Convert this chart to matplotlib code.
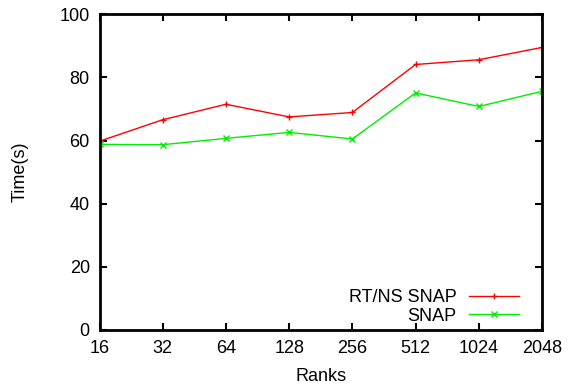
import matplotlib
matplotlib.use("Agg")
import matplotlib.pyplot as plt

plt.rcParams['font.family'] = ['Liberation Sans', 'DejaVu Sans']

ranks = [16, 32, 64, 128, 256, 512, 1024, 2048]
rtns_snap = [59.8, 66.6, 71.5, 67.5, 68.9, 84.1, 85.6, 89.5]
snap = [58.8, 58.7, 60.7, 62.6, 60.5, 75.1, 70.8, 75.6]

fs = 13
fig = plt.figure(figsize=(5.7, 3.85), dpi=100)
ax = fig.add_axes([99.5/570, 1-330/385, (542-99.5)/570, (330-14.3)/385])

ax.plot(ranks, rtns_snap, color="#ff0000", marker="+", markersize=5, lw=1, label="RT/NS SNAP")
ax.plot(ranks, snap, color="#00ee00", marker="x", markersize=4, lw=1, label="SNAP")

ax.set_xscale("log", base=2)
ax.set_xlim(16, 2048)
ax.set_ylim(0, 100)
ax.set_xticks(ranks)
ax.set_xticklabels([str(r) for r in ranks])
ax.minorticks_off()
ax.set_yticks([0, 20, 40, 60, 80, 100])
ax.tick_params(direction="in", top=True, right=True, length=5, width=1.5, labelsize=fs, pad=7)
for s in ax.spines.values():
    s.set_linewidth(2)
ax.set_xlabel("Ranks", fontsize=fs, labelpad=8)
ax.set_ylabel("Time(s)", fontsize=fs, labelpad=22)

leg = ax.legend(loc="lower right", frameon=False, markerfirst=False, fontsize=fs,
                handlelength=2.8, handletextpad=0.65, labelspacing=0.1,
                bbox_to_anchor=(0.985, -0.035))
for t in leg.get_texts():
    t.set_ha("right")

fig.savefig("out.png", dpi=100)
